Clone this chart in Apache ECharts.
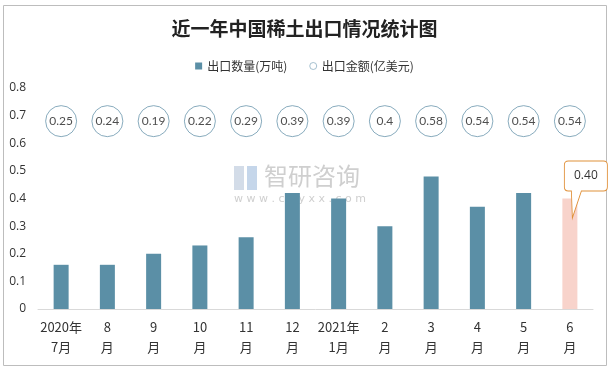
<!DOCTYPE html>
<html><head><meta charset="utf-8">
<script src="https://cdn.jsdelivr.net/npm/echarts@6/dist/echarts.min.js"></script>
<style>html,body{margin:0;padding:0;background:#fff}#c{width:609px;height:369px}</style>
</head><body><div id="c"></div>
<script>
var categories = ['2020年\n7月','8\n月','9\n月','10\n月','11\n月','12\n月','2021年\n1月','2\n月','3\n月','4\n月','5\n月','6\n月'];
var volume = [0.16, 0.16, 0.20, 0.23, 0.26, 0.42, 0.40, 0.30, 0.48, 0.37, 0.42, 0.40];
var amount = ['0.25','0.24','0.19','0.22','0.29','0.39','0.39','0.4','0.58','0.54','0.54','0.54'];
var circleLevel = 0.68;
var yTicks = {min: 0, max: 0.8, interval: 0.1};

var chart = echarts.init(document.getElementById('c'));
var barData = volume.map(function(v, i){
  if (i === volume.length - 1) return {value: v, itemStyle: {color: '#f8d3cb'}};
  return v;
});
var circleData = amount.map(function(a, i){ return [categories[i], circleLevel, a]; });
chart.setOption({
  animation: false,
  title: {text: '近一年中国稀土出口情况统计图', left: 'center', top: 14,
    textStyle: {fontFamily: 'Noto Sans CJK SC', fontSize: 19, fontWeight: 'bold', color: '#222'}},
  legend: {top: 55, left: 'center', itemWidth: 7, itemHeight: 7, itemGap: 22,
    textStyle: {fontFamily: 'Noto Sans CJK SC', fontSize: 12, color: '#333'},
    data: [{name: '出口数量(万吨)', icon: 'rect'},
           {name: '出口金额(亿美元)', icon: 'circle', itemStyle: {color: '#fff', borderColor: '#8fb0c3', borderWidth: 1}}]},
  grid: {left: 38, right: 16, top: 88, bottom: 60},
  xAxis: {type: 'category', data: categories,
    axisLine: {lineStyle: {color: '#d9d9d9'}}, axisTick: {show: false},
    axisLabel: {interval: 0, color: '#333', fontSize: 13, lineHeight: 20, margin: 8, fontFamily: 'Noto Sans CJK SC'}},
  yAxis: {type: 'value', min: yTicks.min, max: yTicks.max, interval: yTicks.interval,
    splitLine: {show: false}, axisLine: {show: false}, axisTick: {show: false},
    axisLabel: {color: '#333', fontSize: 12, margin: 12, fontFamily: 'Open Sans'}},
  series: [
    {name: '出口数量(万吨)', type: 'bar', data: barData, barWidth: 15,
      itemStyle: {color: '#5b8fa6'},
      markPoint: {
        data: [{coord: [categories[11], volume[11]], value: volume[11].toFixed(2)}],
        symbol: 'path://M4,0 L39,0 Q43,0 43,4 L43,26 Q43,30 39,30 L17,30 L8,57 L7,30 L4,30 Q0,30 0,26 L0,4 Q0,0 4,0 Z',
        symbolSize: [43, 57], symbolKeepAspect: false, symbolOffset: [16, -9],
        itemStyle: {color: '#fff', borderColor: '#e0913a', borderWidth: 1},
        label: {show: true, position: 'inside', offset: [0, -14], color: '#333', fontSize: 12, fontFamily: 'Open Sans',
          formatter: function(p){ return p.value; }}
      }},
    {name: '出口金额(亿美元)', type: 'scatter', data: circleData, symbol: 'circle', symbolSize: 31,
      itemStyle: {color: '#fff', borderColor: '#6a96ad', borderWidth: 1},
      label: {show: true, position: 'inside', color: '#222', fontSize: 12, fontFamily: 'Lato',
        formatter: function(p){ return p.data[2]; }}}
  ],
  graphic: [
    {type: 'rect', shape: {x: 3.5, y: 5.5, width: 603, height: 360}, style: {fill: 'none', stroke: '#bdbdbd', lineWidth: 1}, silent: true, z: -1},
    {type: 'group', left: 234, top: 164, silent: true, z: -1, children: [
      {type: 'rect', shape: {x: 0, y: 0, width: 10, height: 24}, style: {fill: '#d3dce8'}},
      {type: 'rect', shape: {x: 13, y: 0, width: 10, height: 24}, style: {fill: '#c5d6ea'}},
      {type: 'text', style: {x: 30, y: -2, text: '智研咨询', font: '24px "Noto Sans CJK SC"', fill: '#cfcfcf'}},
      {type: 'text', style: {x: 0, y: 28, text: 'w w w . c h y x x . c o m', font: '11px "DejaVu Sans"', fill: '#cfcfcf'}}
    ]}
  ]
});
</script></body></html>
